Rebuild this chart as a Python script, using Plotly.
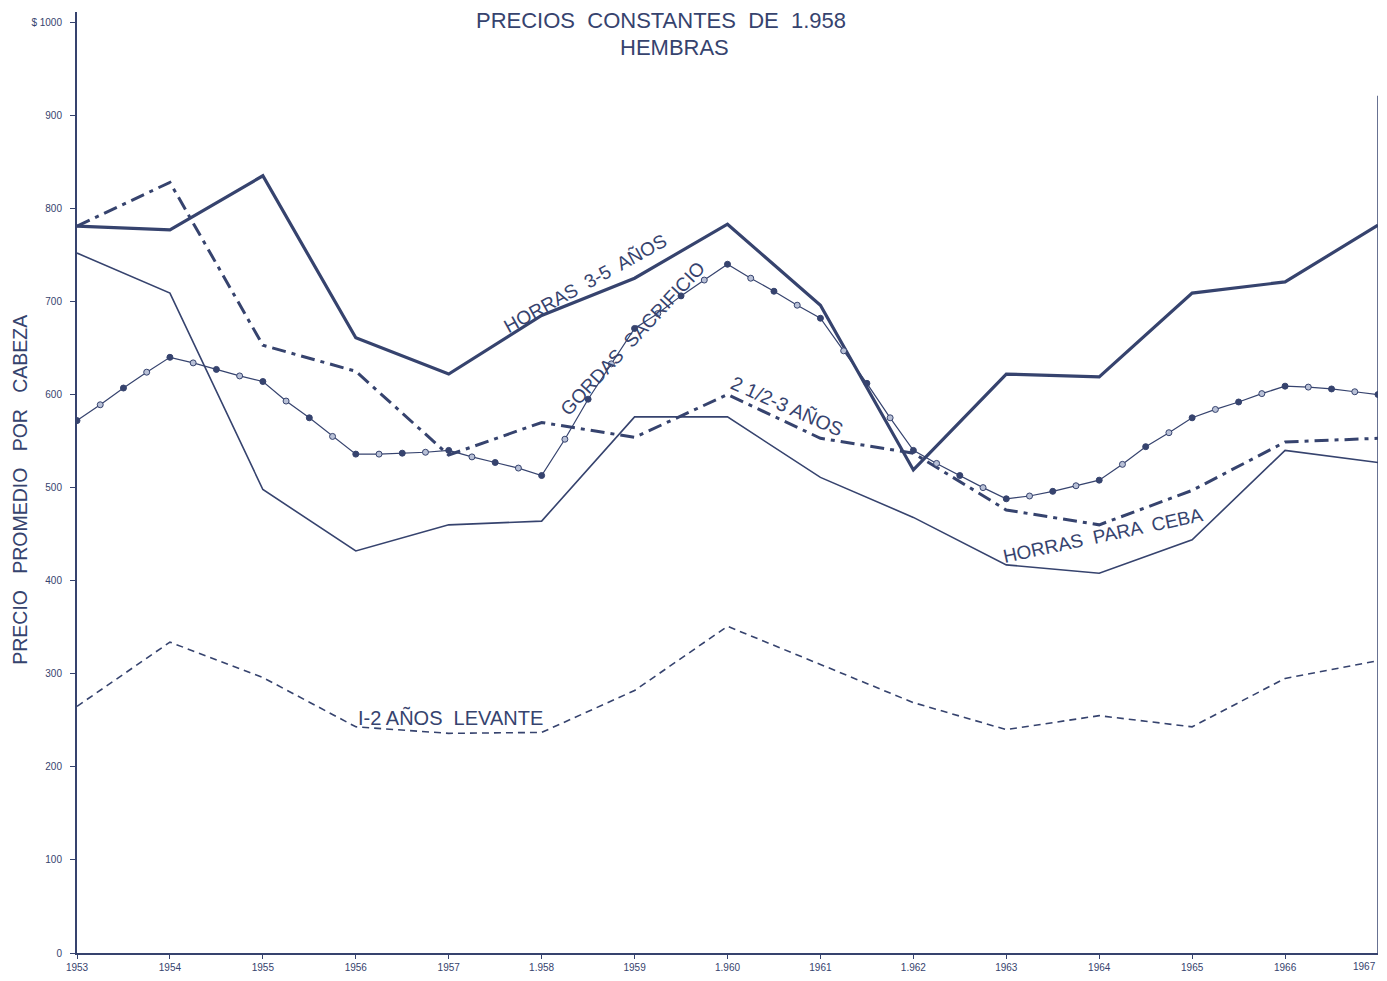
import plotly.graph_objects as go

years = list(range(1953, 1968))
year_labels = ["1953", "1954", "1955", "1956", "1957", "1.958", "1959", "1.960",
               "1961", "1.962", "1963", "1964", "1965", "1966", "1967"]

horras_3_5 = [781, 777, 835, 661, 622, 685, 725, 783, 696, 519, 622, 619, 709, 721, 782]
dos_medio_3 = [781, 828, 653, 625, 535, 570, 554, 600, 553, 537, 476, 460, 497, 549, 553]
horras_ceba = [752, 709, 498, 432, 460, 464, 576, 576, 511, 468, 417, 408, 444, 540, 527]
levante = [265, 334, 296, 243, 236, 237, 282, 351, 310, 269, 240, 255, 243, 295, 314]

gordas_x = [1953 + 0.25 * i for i in range(57)]
gordas = [572, 589, 607, 624, 640, 634, 627, 620, 614, 593, 575, 555, 536, 536, 537, 538,
          540, 533, 527, 521, 513, 552, 595, 633, 671, 687, 706, 723, 740, 725, 711, 696,
          682, 647, 612, 575, 540, 526, 513, 500, 488, 491, 496, 502, 508, 525, 544, 559,
          575, 584, 592, 601, 609, 608, 606, 603, 600]

y_ticks = [0, 100, 200, 300, 400, 500, 600, 700, 800, 900, 1000]
y_labels = ["0", "100", "200", "300", "400", "500", "600", "700", "800", "900", "$ 1000"]

INK = "#36436e"
FONT = "Liberation Sans"

fig = go.Figure()

fig.add_trace(go.Scatter(x=years, y=horras_3_5, mode="lines",
                         line=dict(color=INK, width=3.2), name="Horras 3-5 años"))
fig.add_trace(go.Scatter(x=years, y=dos_medio_3, mode="lines",
                         line=dict(color=INK, width=3, dash="14px,6px,4px,6px"),
                         name="2 1/2-3 años"))
fig.add_trace(go.Scatter(x=years, y=horras_ceba, mode="lines",
                         line=dict(color=INK, width=1.6), name="Horras para ceba"))
fig.add_trace(go.Scatter(x=years, y=levante, mode="lines",
                         line=dict(color=INK, width=1.6, dash="7px,5px"),
                         name="1-2 años levante"))
fig.add_trace(go.Scatter(x=gordas_x, y=gordas, mode="lines+markers",
                         line=dict(color=INK, width=1.2),
                         marker=dict(size=6, symbol="circle",
                                     color=[INK if i % 2 == 0 else "#b8c0d6" for i in range(len(gordas))],
                                     line=dict(color=INK, width=1)),
                         name="Gordas sacrificio"))

fig.update_layout(
    width=1379, height=973,
    margin=dict(l=69, r=9, t=4, b=28),
    paper_bgcolor="white", plot_bgcolor="white",
    showlegend=False,
    font=dict(family=FONT, color=INK),
    xaxis=dict(range=[1953, 1967], tickvals=years[:-1], ticktext=year_labels[:-1],
               showgrid=False, zeroline=False, showline=True, linecolor=INK, linewidth=2,
               ticks="outside", ticklen=4, tickcolor=INK,
               tickfont=dict(size=10, color=INK, family=FONT), automargin=False),
    yaxis=dict(range=[0, 1011], tickvals=y_ticks, ticktext=y_labels,
               showgrid=False, zeroline=False, showline=True, linecolor=INK, linewidth=2,
               ticks="outside", ticklen=5, tickcolor=INK, ticklabelstandoff=6,
               tickfont=dict(size=10, color=INK, family=FONT), automargin=False),
)

# right border line
fig.add_shape(type="line", xref="x", yref="y", x0=1967, x1=1967, y0=0, y1=921,
              line=dict(color=INK, width=1.5))

# last year label (kept inside the page)
fig.add_annotation(text=year_labels[-1], x=years[-1], y=0, xref="x", yref="y",
                   xanchor="right", yanchor="top", yshift=-6, showarrow=False,
                   font=dict(size=10, color=INK, family=FONT))

# title
fig.add_annotation(text="PRECIOS  CONSTANTES  DE  1.958", xref="paper", yref="paper",
                   x=0.449, y=0.9905, yanchor="middle", showarrow=False, borderpad=0,
                   font=dict(size=22, color=INK, family=FONT))
fig.add_annotation(text="HEMBRAS", xref="paper", yref="paper",
                   x=0.459, y=0.978, yanchor="top", showarrow=False,
                   font=dict(size=22, color=INK, family=FONT))

# y axis title
fig.add_annotation(text="PRECIO   PROMEDIO   POR   CABEZA", xref="paper", yref="paper",
                   x=-0.054, y=0.492, textangle=-90, showarrow=False,
                   font=dict(size=19.5, color=INK, family=FONT))

# series labels
labels = [
    ("HORRAS  3-5  AÑOS", 1958.47, 719, -29, 19),
    ("GORDAS  SACRIFICIO", 1958.98, 660, -47, 19),
    ("2 1/2-3 AÑOS", 1960.64, 588, 24, 19.5),
    ("HORRAS  PARA  CEBA", 1964.04, 449, -12, 19),
    ("I-2 AÑOS  LEVANTE", 1957.02, 253, 0, 20),
]
for txt, xv, yv, ang, sz in labels:
    fig.add_annotation(text=txt, x=xv, y=yv, xref="x", yref="y", showarrow=False,
                       textangle=ang, font=dict(size=sz, color=INK, family=FONT))

fig.write_html("out.html")
